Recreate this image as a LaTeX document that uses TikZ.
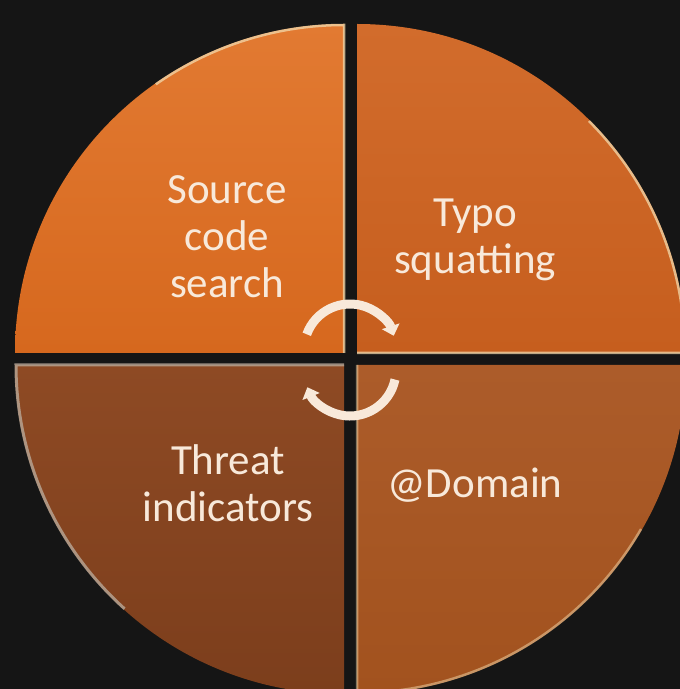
\documentclass[tikz,border=0pt]{standalone}
\usepackage{fontspec}
\setmainfont{Carlito}
\usepackage{xcolor}
\definecolor{colorBack}{HTML}{151515}
\definecolor{colorLabel}{HTML}{F8E9DA}
\definecolor{colorRim}{HTML}{F2D9AC}
\definecolor{colorRimGrey}{HTML}{B8A898}
\usepackage{tikz}
\usetikzlibrary{arrows.meta, calc, positioning}
\tikzset{
  rim/.style={colorRim, line width=2.5pt, opacity=0.75},
  rimgrey/.style={colorRimGrey, line width=3pt, opacity=0.8},
  quadlabel/.style={text=colorLabel, align=center, font=\fontsize{43}{47}\selectfont},
  cyclearrow/.style={draw=colorLabel, line width=9pt, -{Triangle[width=18pt,length=10pt]}}
}

\begin{document}
\begin{tikzpicture}[x=1pt, y=1pt]
\fill[colorBack] (0,0) rectangle (680,689);
\useasboundingbox (0,0) rectangle (680,689);
\clip (0,0) rectangle (680,689);
% corners of the four quarters
\coordinate (tl) at (344,336);
\coordinate (tr) at (357,336);
\coordinate (bl) at (344,324);
\coordinate (br) at (357,324);
% quarters
\shade[top color={rgb,255:red,226;green,122;blue,50}, bottom color={rgb,255:red,214;green,104;blue,30}]
  (tl) -- ++(-329,0) arc[start angle=180, end angle=90, radius=329] -- cycle;
\shade[top color={rgb,255:red,210;green,108;blue,44}, bottom color={rgb,255:red,198;green,94;blue,30}]
  (tr) -- ++(0,329) arc[start angle=90, end angle=0, radius=329] -- cycle;
\shade[top color={rgb,255:red,142;green,74;blue,36}, bottom color={rgb,255:red,124;green,62;blue,28}]
  (bl) -- ++(0,-329) arc[start angle=270, end angle=180, radius=329] -- cycle;
\shade[top color={rgb,255:red,172;green,92;blue,42}, bottom color={rgb,255:red,162;green,82;blue,30}]
  (br) -- ++(329,0) arc[start angle=0, end angle=-90, radius=329] -- cycle;
% highlights
\draw[rim] ($(tl)+(125:328)$) arc[start angle=125, end angle=90, radius=328] -- (tl);
\draw[rim] ($(tr)+(45:328)$) arc[start angle=45, end angle=0, radius=328] -- (tr);
\draw[rimgrey] ($(bl)+(228:328)$) arc[start angle=228, end angle=180, radius=328] -- (bl);
\draw[rim, opacity=0.5] (br) -- ++(0,-328) arc[start angle=270, end angle=330, radius=328];
% labels
\node[quadlabel] (source) at (227,452) {Source\\code\\search};
\node[quadlabel] (typo) at (475,449) {Typo\\squatting};
\node[quadlabel] (threat) at (228,206) {Threat\\indicators};
\node[quadlabel] (domain) at (475,204) {@Domain};
% cycle arrows
\coordinate (upperhub) at (350,339);
\coordinate (lowerhub) at (350,319);
\draw[cyclearrow] ($(upperhub)+(160:46)$) arc[start angle=160, end angle=18, radius=46];
\draw[cyclearrow] ($(lowerhub)+(-12:46)$) arc[start angle=-12, end angle=-158, radius=46];
\end{tikzpicture}
\end{document}
